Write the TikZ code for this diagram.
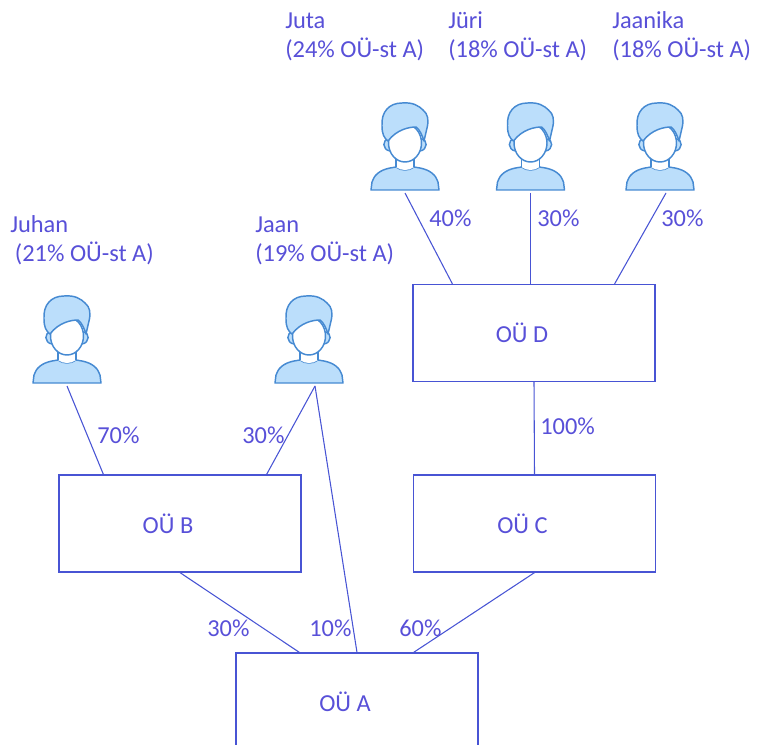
\documentclass[tikz,border=0pt]{standalone}
\usepackage{fontspec}
\setmainfont{Carlito}
\usepackage{xcolor}
\usetikzlibrary{calc}

\definecolor{linecol}{RGB}{72,84,212}
\definecolor{textcol}{RGB}{88,80,216}
\definecolor{iconline}{RGB}{70,138,210}
\definecolor{iconfill}{RGB}{187,222,251}

\tikzset{
  txt/.style={text=textcol, inner sep=0pt, font=\fontsize{18.3pt}{21.75pt}\selectfont},
  oue/.style={txt, draw=linecol, line width=0.9pt, minimum width=181.5pt, minimum height=72.75pt},
  conn/.style={draw=linecol, line width=0.8pt},
  iconpen/.style={draw=iconline, line width=1.1pt, line join=round},
  person/.pic={
    %shoulders
    \draw[iconpen, fill=iconfill] (-34,0) -- (-33,-8) .. controls (-31,-15) and (-25,-20) .. (-15,-22) -- (-9,-23) .. controls (-4,-19) and (4,-19) .. (9,-23) -- (15,-22) .. controls (25,-20) and (31,-15) .. (33,-8) -- (34,0) -- cycle;
    %neck
    \fill[white] (-9,-23) .. controls (-4,-19) and (4,-19) .. (9,-23) -- (9,-34) -- (-9,-34) -- cycle;
    \draw[iconpen] (-9,-23) -- (-9,-34) (9,-23) -- (9,-34);
    %ears
    \draw[iconpen, fill=iconfill] (-16,-51) .. controls (-23,-51) and (-23,-40) .. (-15,-39);
    \draw[iconpen, fill=iconfill] (16,-51) .. controls (23,-51) and (23,-40) .. (15,-39);
    %face
    \draw[iconpen, fill=white] (0,-47) ellipse [x radius=16.5, y radius=19];
    %hair
    \draw[iconpen, fill=iconfill] (-17,-49) .. controls (-21,-52) and (-23,-56) .. (-23,-64) .. controls (-24,-78) and (-16,-87) .. (-3,-87) .. controls (8,-88) and (14,-84) .. (18,-80) .. controls (23,-76) and (24,-70) .. (22,-62) -- (19,-49) .. controls (17,-55) and (15,-60) .. (11,-63) .. controls (5,-63) and (-8,-61) .. (-17,-49) -- cycle;
    \coordinate (-foot) at (0,3);
  }
}

\begin{document}
\begin{tikzpicture}[x=0.75pt,y=-0.75pt]
    \clip (0,0) rectangle (763,745);

    %Persons
    \pic (juta) at (405,190) {person};
    \pic (jueri) at (530.5,190) {person};
    \pic (jaanika) at (660,190) {person};
    \pic (juhan) at (67,383) {person};
    \pic (jaan) at (309,383) {person};

    % Text Node
    \node[txt, anchor=base west, align=left] (jutaname) at (285,58) {Juta\\(24\% OÜ-st A)};
    % Text Node
    \node[txt, anchor=base west, align=left] (jueriname) at (448,58) {Jüri\\(18\% OÜ-st A)};
    % Text Node
    \node[txt, anchor=base west, align=left] (jaanikaname) at (612,58) {Jaanika\\(18\% OÜ-st A)};
    % Text Node
    \node[txt, anchor=base west, align=left] (juhanname) at (10,262) {Juhan\\\hspace*{3.5pt}(21\% OÜ-st A)};
    % Text Node
    \node[txt, anchor=base west, align=left] (jaanname) at (255,262) {Jaan\\(19\% OÜ-st A)};

    %Shape: Rectangle
    \node[oue] (D) at (534,333) {OÜ D\hspace*{18pt}};
    \node[oue] (C) at (534.5,523.5) {OÜ C\hspace*{18pt}};
    \node[oue] (B) at (180,523.5) {OÜ B\hspace*{18pt}};
    \node[oue] (A) at (357,701.5) {OÜ A\hspace*{18pt}};

    %Straight Lines
    \draw[conn] (juta-foot) -- ($(D.north west)+(40,0)$);
    \draw[conn] (jueri-foot) -- (jueri-foot |- D.north);
    \draw[conn] ($(jaanika-foot)+(6,0)$) -- ($(D.north east)+(-41,0)$);
    \draw[conn] (D.south) -- (C.north);
    \draw[conn] (juhan-foot) -- ($(B.north west)+(45,0)$);
    \draw[conn] ($(jaan-foot)+(6,0)$) -- ($(B.north east)+(-35,0)$);
    \draw[conn] ($(jaan-foot)+(6,0)$) -- (A.north);
    \draw[conn] (B.south) -- ($(A.north west)+(64,0)$);
    \draw[conn] (C.south) -- ($(A.north east)+(-65,0)$);

    % Text Node
    \node[txt, anchor=base west] (pjuta) at (429,227) {40\%};
    \node[txt, anchor=base west] (pjueri) at (537,227) {30\%};
    \node[txt, anchor=base west] (pjaanika) at (661,227) {30\%};
    \node[txt, anchor=base west] (pdc) at (540,434) {100\%};
    \node[txt, anchor=base west] (pjuhan) at (97,443) {70\%};
    \node[txt, anchor=base west] (pjaanb) at (242,443) {30\%};
    \node[txt, anchor=base west] (pba) at (207,636) {30\%};
    \node[txt, anchor=base west] (pjaana) at (309,636) {10\%};
    \node[txt, anchor=base west] (pca) at (399,636) {60\%};

\end{tikzpicture}
\end{document}
